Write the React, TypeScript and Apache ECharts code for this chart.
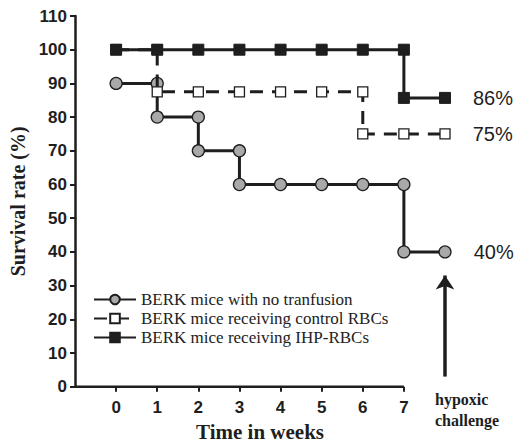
import React, { useEffect, useRef } from "react";
import * as echarts from "echarts";

const seriesNames = [
  "BERK mice with no tranfusion",
  "BERK mice receiving control RBCs",
  "BERK mice receiving IHP-RBCs",
];
const noTransfusionX = [0, 1, 1, 2, 2, 3, 3, 4, 5, 6, 7, 7, 8];
const noTransfusionY = [90, 90, 80, 80, 70, 70, 60, 60, 60, 60, 60, 40, 40];
const controlX = [0, 1, 1, 2, 3, 4, 5, 6, 6, 7, 8];
const controlY = [100, 100, 87.5, 87.5, 87.5, 87.5, 87.5, 87.5, 75, 75, 75];
const ihpX = [0, 1, 2, 3, 4, 5, 6, 7, 7, 8];
const ihpY = [100, 100, 100, 100, 100, 100, 100, 100, 85.7, 85.7];
const endLabels = ["40%", "75%", "86%"];
const xTicks = [0, 1, 2, 3, 4, 5, 6, 7];
const xAxisLineRange = [-1, 7];
const arrowX = 8;
const arrowRange = [3, 33];

const INK = "#1e1e1e";

function buildData(xs: number[], ys: number[], label: string) {
  return xs.map((x, i) => {
    if (i === xs.length - 1) {
      return {
        value: [x, ys[i]],
        label: {
          show: true,
          position: "right",
          distance: 22,
          formatter: label,
          fontFamily: "Liberation Sans",
          fontSize: 20,
          color: INK,
        },
      };
    }
    return [x, ys[i]];
  });
}

export default function App() {
  const ref = useRef<HTMLDivElement>(null);
  useEffect(() => {
    if (!ref.current) return;
    document.body.style.margin = "0";
    const chart = echarts.init(ref.current, null, { renderer: "svg" });
    chart.setOption({
      animation: false,
      backgroundColor: "#ffffff",
      grid: {
        left: 75,
        right: 73,
        top: 16,
        bottom: 59.3,
        containLabel: false,
        outerBoundsMode: "none",
      },
      legend: {
        data: seriesNames,
        orient: "vertical",
        left: 93,
        top: 291,
        padding: 0,
        itemWidth: 42,
        itemHeight: 12,
        itemGap: 2,
        textStyle: {
          fontFamily: "Liberation Serif",
          fontSize: 17,
          color: "#222",
          lineHeight: 17,
        },
      },
      xAxis: {
        type: "value",
        min: -1,
        max: 8,
        interval: 1,
        name: "Time in weeks",
        nameLocation: "middle",
        nameGap: 35,
        nameTextStyle: {
          fontFamily: "Liberation Serif",
          fontWeight: "bold",
          fontSize: 21,
          color: INK,
        },
        axisLine: { show: false, onZero: false },
        axisTick: {
          show: true,
          customValues: xTicks,
          length: 5,
          lineStyle: { color: INK, width: 2 },
        },
        axisLabel: {
          customValues: xTicks,
          margin: 12,
          fontFamily: "Liberation Sans",
          fontWeight: "bold",
          fontSize: 17,
          color: INK,
        },
        splitLine: { show: false },
      },
      yAxis: {
        type: "value",
        min: 0,
        max: 110,
        interval: 10,
        name: "Survival rate (%)",
        nameLocation: "middle",
        nameGap: 46,
        nameTextStyle: {
          fontFamily: "Liberation Serif",
          fontWeight: "bold",
          fontSize: 20,
          color: INK,
        },
        axisLine: { show: true, onZero: false, lineStyle: { color: INK, width: 2.5 } },
        axisTick: { show: true, length: 5, lineStyle: { color: INK, width: 2 } },
        axisLabel: {
          margin: 8,
          fontFamily: "Liberation Sans",
          fontWeight: "bold",
          fontSize: 17,
          color: INK,
        },
        splitLine: { show: false },
      },
      series: [
        {
          name: "axisLineX",
          type: "line",
          data: xAxisLineRange.map((x) => [x, 0]),
          symbol: "none",
          silent: true,
          clip: false,
          lineStyle: { color: INK, width: 2.5 },
          z: 1,
          markLine: {
            silent: true,
            symbol: ["none", "arrow"],
            symbolSize: [14, 14],
            lineStyle: { color: INK, width: 3.5, type: "solid" },
            label: { show: false },
            data: [
              [
                { coord: [arrowX, arrowRange[0]] },
                { coord: [arrowX, arrowRange[1]] },
              ],
            ],
          },
        },
        {
          name: seriesNames[0],
          type: "line",
          data: buildData(noTransfusionX, noTransfusionY, endLabels[0]),
          symbol: "circle",
          symbolSize: 12,
          clip: false,
          lineStyle: { color: INK, width: 3 },
          itemStyle: { color: "#a9a9a9", borderColor: INK, borderWidth: 1.3 },
          z: 2,
        },
        {
          name: seriesNames[1],
          type: "line",
          data: buildData(controlX, controlY, endLabels[1]),
          symbol: "rect",
          symbolSize: 10,
          clip: false,
          lineStyle: { color: INK, width: 3, type: [13, 9] },
          itemStyle: { color: "#ffffff", borderColor: INK, borderWidth: 1.3 },
          z: 3,
        },
        {
          name: seriesNames[2],
          type: "line",
          data: buildData(ihpX, ihpY, endLabels[2]),
          symbol: "rect",
          symbolSize: 11,
          clip: false,
          lineStyle: { color: INK, width: 3 },
          itemStyle: { color: INK, borderColor: INK, borderWidth: 1 },
          z: 4,
        },
      ],
      graphic: [
        {
          type: "text",
          left: 435,
          top: 389,
          style: {
            text: "hypoxic\nchallenge",
            fontFamily: "Liberation Serif",
            fontWeight: "bold",
            fontSize: 16,
            lineHeight: 21,
            fill: INK,
          },
        },
      ],
    });
    return () => chart.dispose();
  }, []);
  return <div ref={ref} style={{ width: 518, height: 446 }} />;
}
